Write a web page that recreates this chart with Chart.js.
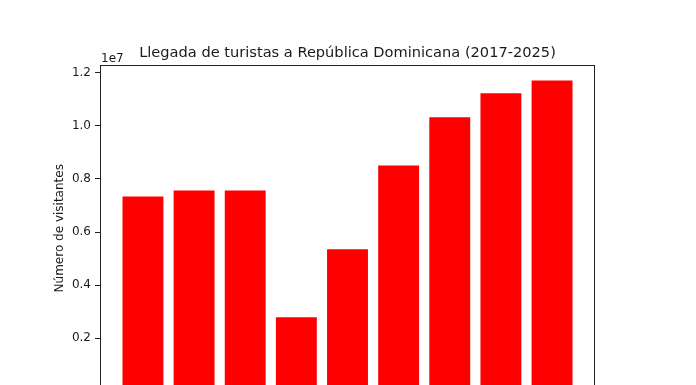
<!DOCTYPE html>
<html lang="es">
<head>
    <meta charset="UTF-8">
    <title>Llegada de turistas a República Dominicana</title>
    <style>
        html, body {
            margin: 0;
            padding: 0;
            background: #fff;
            overflow: hidden;
        }
        #wrap {
            width: 696px;
            height: 460px;
        }
    </style>
    <script src="https://cdn.jsdelivr.net/npm/chart.js"></script>
</head>
<body>
    <div id="wrap">
        <canvas id="chart" width="696" height="460"></canvas>
    </div>

    <script>
        const years = ['2017', '2018', '2019', '2020', '2021', '2022', '2023', '2024', '2025'];
        const visitors = [7340000, 7560000, 7560000, 2790000, 5350000, 8500000, 10320000, 11220000, 11700000];
        const yTicks = [0, 2000000, 4000000, 6000000, 8000000, 10000000, 12000000];

        const titleText = 'Llegada de turistas a República Dominicana (2017-2025)';
        const yLabel = 'Número de visitantes';
        const FONT = "'DejaVu Sans', sans-serif";

        // title, offset text, y label and the axes frame, drawn like matplotlib does
        const decorations = {
            id: 'decorations',
            afterDraw(chart) {
                const ctx = chart.ctx;
                const a = chart.chartArea;
                ctx.save();

                ctx.strokeStyle = '#222';
                ctx.lineWidth = 1;
                ctx.strokeRect(a.left + 0.5, a.top + 0.5, a.right - a.left - 1, a.bottom - a.top);

                ctx.fillStyle = '#1a1a1a';
                ctx.font = '14.6px ' + FONT;
                ctx.textAlign = 'center';
                ctx.textBaseline = 'alphabetic';
                ctx.fillText(titleText, (a.left + a.right) / 2, 57);

                ctx.font = '12px ' + FONT;
                ctx.textAlign = 'left';
                ctx.fillText('1e7', a.left + 1, 62);

                ctx.translate(60, (a.top + a.bottom) / 2);
                ctx.rotate(-Math.PI / 2);
                ctx.textAlign = 'center';
                ctx.textBaseline = 'middle';
                ctx.fillText(yLabel, 0, 0);
                ctx.restore();
            }
        };

        const points = years.map((y, i) => ({ x: i, y: visitors[i] }));

        new Chart(document.getElementById('chart'), {
            type: 'bar',
            data: {
                datasets: [{
                    label: 'Visitantes',
                    data: points,
                    backgroundColor: '#ff0000',
                    borderWidth: 0,
                    barPercentage: 0.8,
                    categoryPercentage: 1.0
                }]
            },
            options: {
                responsive: false,
                animation: false,
                layout: {
                    padding: { left: 0, right: 101, top: 65, bottom: 0 }
                },
                plugins: {
                    legend: { display: false },
                    title: { display: false },
                    tooltip: { enabled: false }
                },
                scales: {
                    x: {
                        type: 'linear',
                        offset: false,
                        min: -0.84,
                        max: 8.84,
                        afterFit(scale) { scale.height = 460 - 391.5; },
                        afterBuildTicks(scale) {
                            scale.ticks = years.map((y, i) => ({ value: i }));
                        },
                        ticks: {
                            callback: (v) => years[v] || '',
                            color: '#1a1a1a',
                            font: { family: FONT, size: 12 },
                            padding: 4,
                            maxRotation: 0
                        },
                        grid: {
                            drawOnChartArea: false,
                            tickLength: 5,
                            color: '#222'
                        },
                        border: { display: false }
                    },
                    y: {
                        min: 0,
                        max: Math.max(...visitors) * 1.05,
                        afterFit(scale) { scale.width = 100; },
                        afterBuildTicks(scale) {
                            scale.ticks = yTicks.map(v => ({ value: v }));
                        },
                        ticks: {
                            callback: (v) => (v / 1e7).toFixed(1),
                            color: '#1a1a1a',
                            font: { family: FONT, size: 12 },
                            padding: 4
                        },
                        grid: {
                            drawOnChartArea: false,
                            tickLength: 5,
                            color: '#222'
                        },
                        border: { display: false }
                    }
                }
            },
            plugins: [decorations]
        });
    </script>
</body>
</html>
